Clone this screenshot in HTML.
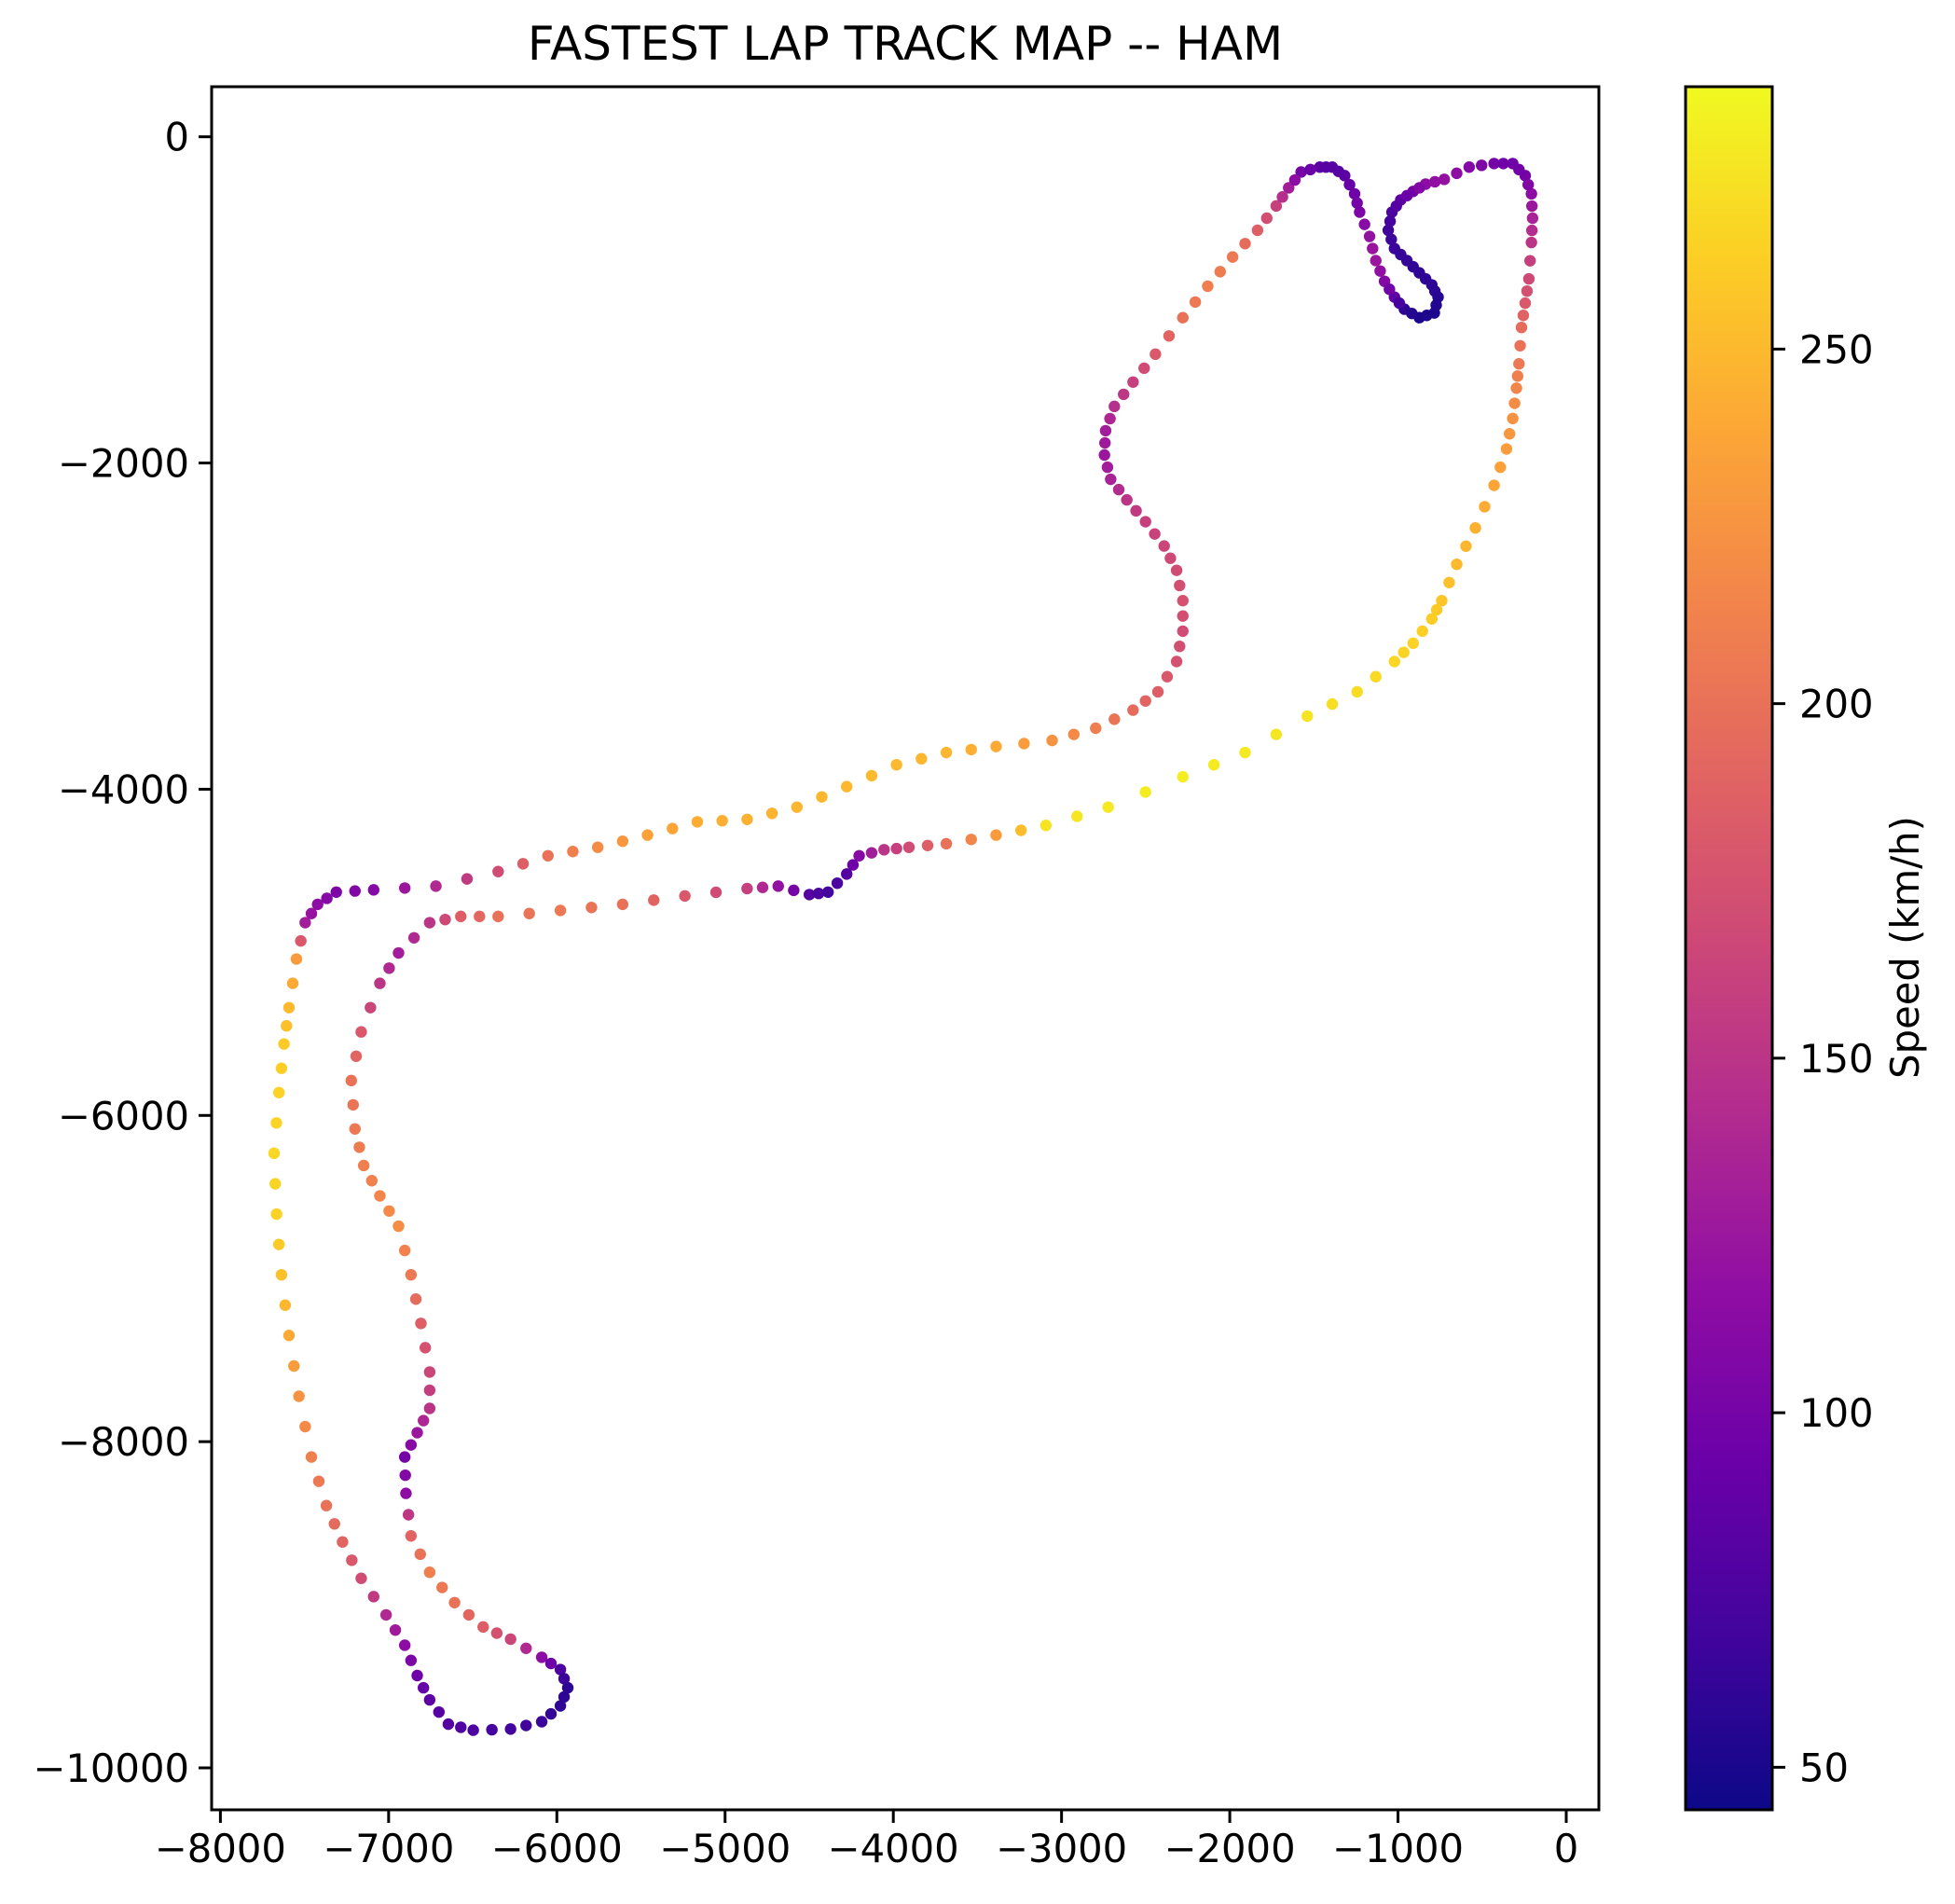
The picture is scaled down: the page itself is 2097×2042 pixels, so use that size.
<!DOCTYPE html>
<html><head><meta charset="utf-8"><style>
html,body{margin:0;padding:0;background:#fff}
svg{display:block;font-family:"DejaVu Sans","Liberation Sans",sans-serif}
</style></head><body>
<svg id="chart" width="2097" height="2042" viewBox="0 0 2097 2042" xmlns="http://www.w3.org/2000/svg">
<rect width="2097" height="2042" fill="#fff"/>
<text x="971" y="64" font-size="50" text-anchor="middle">FASTEST LAP TRACK MAP -- HAM</text>
<defs><linearGradient id="plasma" x1="0" y1="1" x2="0" y2="0">
<stop offset="0" stop-color="#0d0887"/><stop offset="0.1" stop-color="#41049d"/><stop offset="0.2" stop-color="#6a00a8"/><stop offset="0.3" stop-color="#8f0da4"/><stop offset="0.4" stop-color="#b12a90"/><stop offset="0.5" stop-color="#cc4778"/><stop offset="0.6" stop-color="#e16462"/><stop offset="0.7" stop-color="#f2844b"/><stop offset="0.8" stop-color="#fca636"/><stop offset="0.9" stop-color="#fcce25"/><stop offset="1" stop-color="#f0f921"/>
</linearGradient></defs>
<g id="points"></g>
<g id="axes"></g>
<rect x="1808" y="93" width="93" height="1848" fill="url(#plasma)" stroke="#000" stroke-width="3"/>
<g id="cbticks"></g>
<text x="0" y="0" font-size="41.7" text-anchor="middle" transform="translate(2058,1016) rotate(-90)">Speed (km/h)</text>
</svg>
<script>
const xs = [-3093,-2723,-2279,-1909,-1539,-1243,-1021,-910,-799,-740,-651,-540,-429,-355,-318,-296,-281,-266,-244,-222,-207,-200,-207,-244,-318,-429,-577,-725,-836,-910,-984,-1036,-1058,-1021,-947,-873,-799,-762,-784,-873,-962,-1021,-1080,-1132,-1169,-1228,-1258,-1317,-1391,-1465,-1576,-1650,-1724,-1835,-1983,-2131,-2279,-2442,-2575,-2686,-2738,-2745,-2708,-2612,-2501,-2390,-2316,-2279,-2279,-2316,-2427,-2575,-2797,-3056,-3389,-3685,-3981,-4277,-4573,-4869,-5165,-5461,-5757,-6053,-6349,-6719,-7089,-7311,-7422,-7496,-7548,-7592,-7622,-7652,-7681,-7666,-7637,-7592,-7533,-7459,-7370,-7274,-7163,-7015,-6904,-6830,-6756,-6645,-6497,-6275,-6090,-5979,-5935,-5979,-6090,-6275,-6438,-6608,-6756,-6867,-6897,-6904,-6830,-6756,-6756,-6808,-6867,-6941,-7052,-7148,-7200,-7222,-7163,-7052,-6941,-6756,-6571,-6349,-5979,-5609,-5239,-4869,-4684,-4499,-4388,-4277,-4203,-4055,-3907,-3685,-3389];
const ys = [-4222,-4110,-3924,-3775,-3552,-3403,-3217,-3105,-2956,-2844,-2621,-2398,-2137,-1914,-1727,-1541,-1392,-1169,-1020,-871,-648,-499,-350,-238,-164,-164,-186,-261,-290,-335,-387,-462,-573,-685,-759,-834,-908,-983,-1080,-1109,-1057,-983,-886,-759,-611,-462,-350,-238,-186,-186,-216,-313,-424,-573,-737,-916,-1109,-1333,-1504,-1653,-1802,-1951,-2100,-2226,-2360,-2509,-2658,-2844,-3031,-3217,-3403,-3515,-3626,-3701,-3738,-3775,-3850,-3984,-4110,-4185,-4200,-4281,-4356,-4408,-4505,-4594,-4617,-4631,-4706,-4818,-5041,-5339,-5562,-5860,-6232,-6605,-6977,-7349,-7722,-8094,-8392,-8615,-8838,-9062,-9248,-9434,-9583,-9732,-9769,-9762,-9717,-9620,-9509,-9397,-9322,-9211,-9136,-8987,-8801,-8578,-8317,-8094,-7945,-7796,-7573,-7275,-6977,-6679,-6493,-6307,-6083,-5786,-5488,-5190,-5004,-4818,-4780,-4780,-4743,-4706,-4654,-4609,-4594,-4646,-4631,-4520,-4408,-4371,-4356,-4334,-4281];
const speeds = [275,278,280,278,275,270,268,265,262,258,250,245,238,232,225,215,205,195,180,168,150,135,115,100,95,100,110,120,115,100,85,75,68,65,62,60,58,55,52,50,60,85,110,125,120,105,95,85,80,85,100,130,160,185,205,210,200,180,160,145,130,125,135,150,160,165,170,175,170,175,185,195,210,225,240,248,250,250,248,245,242,235,220,200,170,140,110,105,115,130,230,250,260,265,268,265,255,240,225,210,200,190,170,140,115,95,85,80,75,70,65,60,58,75,115,165,185,200,210,190,115,100,125,150,165,185,205,220,215,210,205,200,180,150,130,150,185,200,205,200,180,160,120,80,70,80,110,150,170,200,230];
const xs2 = [-2908,-2501,-2094,-1724,-1391,-1132,-966,-855,-770,-696,-596,-485,-392,-337,-307,-289,-274,-255,-233,-215,-204,-204,-226,-281,-374,-503,-651,-781,-873,-947,-1010,-1047,-1040,-984,-910,-836,-781,-773,-829,-918,-992,-1051,-1106,-1151,-1199,-1243,-1288,-1354,-1428,-1521,-1613,-1687,-1780,-1909,-2057,-2205,-2361,-2509,-2631,-2712,-2742,-2727,-2660,-2557,-2446,-2353,-2298,-2279,-2298,-2372,-2501,-2686,-2927,-3223,-3537,-3833,-4129,-4425,-4721,-5017,-5313,-5609,-5905,-6201,-6534,-6904,-7200,-7367,-7459,-7522,-7570,-7607,-7637,-7667,-7674,-7652,-7615,-7563,-7496,-7415,-7322,-7219,-7089,-6960,-6867,-6793,-6701,-6571,-6386,-6183,-6035,-5957,-5957,-6035,-6183,-6357,-6523,-6682,-6812,-6882,-6901,-6867,-6793,-6756,-6782,-6838,-6904,-6997,-7100,-7174,-7211,-7193,-7108,-6997,-6849,-6664,-6460,-6164,-5794,-5424,-5054,-4777,-4592,-4444,-4333,-4240,-4129,-3981,-3796,-3537,-3241];
const ys2 = [-4166,-4017,-3850,-3664,-3478,-3310,-3161,-3031,-2900,-2733,-2510,-2268,-2026,-1821,-1634,-1467,-1281,-1095,-946,-760,-574,-425,-294,-201,-164,-175,-224,-276,-313,-361,-425,-518,-629,-722,-797,-871,-946,-1032,-1095,-1083,-1020,-935,-823,-685,-537,-406,-294,-212,-186,-201,-265,-369,-499,-655,-827,-1013,-1221,-1419,-1579,-1728,-1877,-2026,-2163,-2293,-2435,-2584,-2751,-2938,-3124,-3310,-3459,-3571,-3664,-3720,-3757,-3813,-3917,-4047,-4148,-4193,-4241,-4319,-4382,-4457,-4550,-4606,-4624,-4669,-4762,-4930,-5190,-5451,-5711,-6046,-6419,-6791,-7163,-7536,-7908,-8243,-8504,-8727,-8950,-9155,-9341,-9509,-9658,-9751,-9766,-9740,-9669,-9565,-9453,-9360,-9267,-9174,-9062,-8894,-8690,-8448,-8206,-8020,-7871,-7685,-7424,-7126,-6828,-6586,-6400,-6195,-5935,-5637,-5339,-5097,-4911,-4799,-4780,-4762,-4725,-4680,-4632,-4602,-4620,-4639,-4576,-4464,-4390,-4364,-4345,-4308,-4252];
const speeds2 = [276,279,279,276,272,269,266,263,260,254,248,242,235,228,220,210,200,188,174,159,143,125,108,97,97,105,115,118,108,92,80,72,66,63,61,59,57,54,51,55,72,98,118,123,113,100,90,82,82,92,115,145,172,195,208,205,190,170,152,138,128,130,142,155,162,168,172,172,172,180,190,202,218,232,244,249,250,249,246,244,238,228,210,185,155,125,108,110,122,180,240,255,262,266,266,260,248,232,218,205,195,180,155,128,105,90,82,78,72,68,62,59,66,95,140,175,192,205,200,152,108,112,138,158,175,195,212,218,212,208,202,190,165,140,140,168,192,202,202,190,170,140,100,75,75,95,130,160,185,215,252];
const xTicks = [-8000,-7000,-6000,-5000,-4000,-3000,-2000,-1000,0];
const yTicks = [0,-2000,-4000,-6000,-8000,-10000];
const cbTicks = [50,100,150,200,250];
const vmin = 44, vmax = 287;

const NS='http://www.w3.org/2000/svg';
const L=227,R=1715,T=93,B=1941;
function sx(v){return 1680 + v*0.18045;}
function sy(v){return 146.7 - v*0.17493;}
function cy(v){return 1941 - (v-vmin)/(vmax-vmin)*1848;}
const stops=['#0d0887','#41049d','#6a00a8','#8f0da4','#b12a90','#cc4778','#e16462','#f2844b','#fca636','#fcce25','#f0f921'];
function hex(h){return [1,3,5].map(i=>parseInt(h.substr(i,2),16));}
function plasma(v){let t=Math.max(0,Math.min(1,(v-vmin)/(vmax-vmin)))*10;let i=Math.min(9,Math.floor(t));let f=t-i;let a=hex(stops[i]),b=hex(stops[i+1]);return 'rgb('+a.map((c,k)=>Math.round(c+(b[k]-c)*f)).join(',')+')';}
function mk(tag,attrs,parent){const e=document.createElementNS(NS,tag);for(const k in attrs)e.setAttribute(k,attrs[k]);parent.appendChild(e);return e;}

const allX=xs.concat(xs2), allY=ys.concat(ys2), allS=speeds.concat(speeds2);
const pts=document.getElementById('points');
for(let i=0;i<allX.length;i++){
  const c=mk('circle',{cx:sx(allX[i]),cy:sy(allY[i]),r:6.2,fill:plasma(allS[i])},pts);
  
  
}
const ax=document.getElementById('axes');
const frame=mk('rect',{x:L,y:T,width:R-L,height:B-T,fill:'none',stroke:'#000','stroke-width':3},ax);


xTicks.forEach(v=>{
  const x=sx(v);
  mk('line',{x1:x,y1:B,x2:x,y2:B+14,stroke:'#000','stroke-width':3},ax);
  const t=mk('text',{x:x,y:B+56,'font-size':41.7,'text-anchor':'middle'},ax);
  t.textContent=(v<0?'\u2212':'')+Math.abs(v);
  
  
});
yTicks.forEach(v=>{
  const y=sy(v);
  mk('line',{x1:L-14,y1:y,x2:L,y2:y,stroke:'#000','stroke-width':3},ax);
  const t=mk('text',{x:L-24,y:y+15,'font-size':41.7,'text-anchor':'end'},ax);
  t.textContent=(v<0?'\u2212':'')+Math.abs(v);
  
  
});
const cb=document.getElementById('cbticks');
cbTicks.forEach(v=>{
  const y=cy(v);
  mk('line',{x1:1901,y1:y,x2:1915,y2:y,stroke:'#000','stroke-width':3},cb);
  const t=mk('text',{x:1930,y:y+15,'font-size':41.7},cb);
  t.textContent=v;
  
  
});
</script>
</body></html>
